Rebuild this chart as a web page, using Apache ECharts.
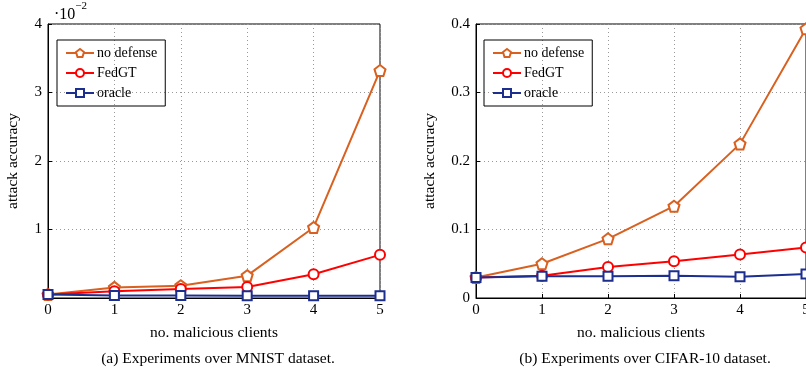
<!DOCTYPE html>
<html>
<head>
<meta charset="utf-8">
<script src="https://cdn.jsdelivr.net/npm/echarts@6/dist/echarts.min.js"></script>
<style>
  html, body { margin: 0; padding: 0; background: #fff; }
  #chart { width: 806px; height: 368px; }
</style>
</head>
<body>
<div id="chart"></div>
<script>
    // number of malicious clients
    const clients = [0, 1, 2, 3, 4, 5]

    // MNIST, in units of 10^-2
    const mnistNoDefense = [0.05, 0.155, 0.18, 0.326, 1.03, 3.32]
    const mnistFedGT = [0.05, 0.097, 0.13, 0.16, 0.346, 0.63]
    const mnistOracle = [0.05, 0.035, 0.035, 0.032, 0.032, 0.032]

    // CIFAR-10
    const cifarNoDefense = [0.03, 0.05, 0.0864, 0.134, 0.225, 0.393]
    const cifarFedGT = [0.03, 0.0326, 0.0454, 0.0536, 0.0634, 0.0736]
    const cifarOracle = [0.03, 0.0316, 0.0316, 0.0326, 0.031, 0.0351]

    const names = ['no defense', 'FedGT', 'oracle']
    const colors = ['#d9601f', '#ff0000', '#1c2e8e']
    const pentagon = 'path://M0,-1 L0.951,-0.309 L0.588,0.809 L-0.588,0.809 L-0.951,-0.309 Z'
    const symbols = [pentagon, 'circle', 'rect']
    const symbolSizes = [11, 10, 9]

    const font = 'Liberation Serif'

    function pairs (ys) {
        return ys.map((y, i) => [clients[i], y])
    }

    function makeSeries (idx, data, k) {
        return {
            name: names[k],
            type: 'line',
            xAxisIndex: idx,
            yAxisIndex: idx,
            data: pairs(data),
            symbol: symbols[k],
            symbolSize: symbolSizes[k],
            showAllSymbol: true,
            clip: false,
            z: k === 2 ? 3 : 2,
            lineStyle: { color: colors[k], width: 2 },
            itemStyle: { color: '#fff', borderColor: colors[k], borderWidth: 2 },
            emphasis: { disabled: true },
            animation: false
        }
    }

    function xAxis (gridIndex) {
        return {
            type: 'value',
            gridIndex,
            min: 0,
            max: 5,
            interval: 1,
            name: 'no. malicious clients',
            nameLocation: 'middle',
            nameGap: 27,
            nameTextStyle: { fontFamily: font, fontSize: 15.5, color: '#000' },
            axisLine: { lineStyle: { color: '#000', width: 1 } },
            axisTick: { inside: true, length: 4, lineStyle: { color: '#000' } },
            axisLabel: { fontFamily: font, fontSize: 15, color: '#000', margin: 5 },
            splitLine: { show: true, lineStyle: { color: '#999', type: [1, 3], width: 1 } }
        }
    }

    function yAxis (gridIndex, max, interval, fmt, nameGap) {
        return {
            type: 'value',
            gridIndex,
            min: 0,
            max,
            interval,
            name: 'attack accuracy',
            nameLocation: 'middle',
            nameGap,
            nameTextStyle: { fontFamily: font, fontSize: 15.5, color: '#000' },
            axisLine: { show: true, lineStyle: { color: '#000', width: 1 } },
            axisTick: { inside: true, length: 4, lineStyle: { color: '#000' } },
            axisLabel: {
                fontFamily: font,
                fontSize: 15,
                color: '#000',
                margin: 6,
                showMinLabel: gridIndex === 1,
                formatter: fmt
            },
            splitLine: { show: true, lineStyle: { color: '#999', type: [1, 3], width: 1 } }
        }
    }

    function legend (left) {
        return {
            data: names,
            orient: 'vertical',
            left,
            top: 40,
            itemGap: 6,
            itemWidth: 28,
            itemHeight: 10,
            padding: [6, 8, 6, 8],
            borderColor: '#000',
            borderWidth: 1,
            borderRadius: 0,
            selectedMode: false,
            textStyle: { fontFamily: font, fontSize: 14, color: '#000', padding: [0, 0, 0, -2] }
        }
    }

    const chart = echarts.init(document.getElementById('chart'))

    const gridBase = {
        top: 24,
        height: 274,
        show: true,
        borderColor: '#000',
        borderWidth: 1,
        backgroundColor: 'transparent',
        containLabel: false,
        outerBoundsMode: 'none'
    }

    const option = {
        backgroundColor: '#fff',
        animation: false,
        color: colors,
        grid: [
            Object.assign({ left: 48, width: 332 }, gridBase),
            Object.assign({ left: 476, width: 330 }, gridBase)
        ],
        xAxis: [xAxis(0), xAxis(1)],
        yAxis: [
            yAxis(0, 4, 1, v => String(v), 27),
            yAxis(1, 0.4, 0.1, v => (v === 0 ? '0' : v.toFixed(1)), 38)
        ],
        legend: [legend(57), legend(484)],
        title: [
            {
                text: '(a) Experiments over MNIST dataset.',
                left: 213,
                top: 346,
                textAlign: 'center',
                textStyle: { fontFamily: font, fontSize: 15.5, fontWeight: 'normal', color: '#000' }
            },
            {
                text: '(b) Experiments over CIFAR-10 dataset.',
                left: 640,
                top: 346,
                textAlign: 'center',
                textStyle: { fontFamily: font, fontSize: 15.5, fontWeight: 'normal', color: '#000' }
            }
        ],
        graphic: [
            {
                type: 'text',
                left: 54,
                top: 1,
                style: {
                    text: '{b|·10}{s|−2}',
                    rich: {
                        b: { fontFamily: font, fontSize: 16, fill: '#000', verticalAlign: 'bottom', padding: [6, 0, 0, 0] },
                        s: { fontFamily: font, fontSize: 11, fill: '#000', verticalAlign: 'top' }
                    }
                }
            }
        ],
        series: [
            makeSeries(0, mnistNoDefense, 0),
            makeSeries(0, mnistFedGT, 1),
            makeSeries(0, mnistOracle, 2),
            makeSeries(1, cifarNoDefense, 0),
            makeSeries(1, cifarFedGT, 1),
            makeSeries(1, cifarOracle, 2)
        ]
    }

    chart.setOption(option)
</script>
</body>
</html>
